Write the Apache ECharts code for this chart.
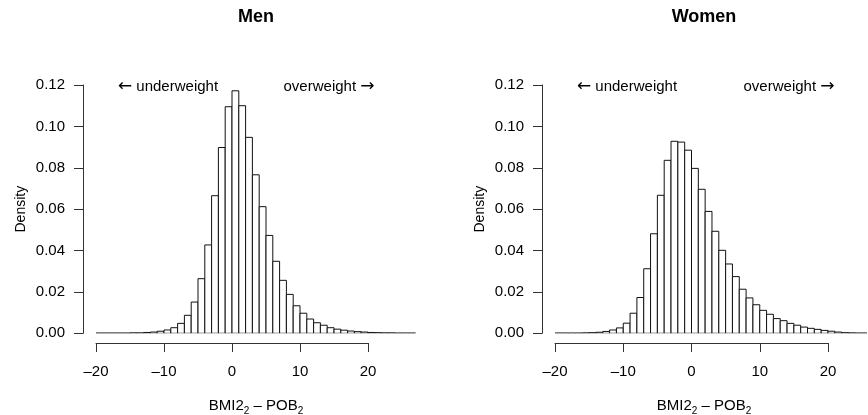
<!DOCTYPE html>
<html>
<head>
<meta charset="utf-8">
<script src="https://cdn.jsdelivr.net/npm/echarts@6/dist/echarts.min.js"></script>
<style>
  html, body { margin: 0; padding: 0; background: #fff; }
  #chart { width: 868px; height: 415px; }
</style>
</head>
<body>
<div id="chart"></div>
<script>
  // left edge of each bin (bin width 1)
  var binStart = [-20, -19, -18, -17, -16, -15, -14, -13, -12, -11, -10, -9, -8, -7, -6, -5, -4, -3, -2, -1,
    0, 1, 2, 3, 4, 5, 6, 7, 8, 9, 10, 11, 12, 13, 14, 15, 16, 17, 18, 19, 20, 21, 22, 23, 24, 25, 26];

  // density
  var menDensity = [0.0001, 0.0001, 0.0001, 0.0001, 0.0001, 0.0002, 0.0002, 0.0004, 0.0006, 0.0010,
    0.0016, 0.0027, 0.0048, 0.0087, 0.0151, 0.0264, 0.0427, 0.0665, 0.0898, 0.1095,
    0.1172, 0.1100, 0.0947, 0.0766, 0.0612, 0.0473, 0.0348, 0.0256, 0.0188, 0.0133,
    0.0097, 0.0069, 0.0051, 0.0039, 0.0027, 0.0020, 0.0015, 0.0011, 0.0008, 0.0006,
    0.0004, 0.0003, 0.0002, 0.0002, 0.0001, 0.0001, 0.0001];

  var womenDensity = [0.0001, 0.0001, 0.0001, 0.0001, 0.0002, 0.0003, 0.0005, 0.0009, 0.0016, 0.0026,
    0.0049, 0.0097, 0.0173, 0.0312, 0.0481, 0.0667, 0.0836, 0.0928, 0.0924, 0.0885,
    0.0797, 0.0696, 0.0589, 0.0493, 0.0401, 0.0335, 0.0274, 0.0213, 0.0171, 0.0138,
    0.0111, 0.0092, 0.0071, 0.0061, 0.0048, 0.0039, 0.0030, 0.0024, 0.0019, 0.0014,
    0.0010, 0.0006, 0.0003, 0.0002, 0.0001, 0.0001, 0.0001];

  var xTicks = [-20, -10, 0, 10, 20];
  var yTicks = [0, 0.02, 0.04, 0.06, 0.08, 0.10, 0.12];

  var font = 'Liberation Sans, Arial, Helvetica, sans-serif';

  function pairs(values) {
    return binStart.map(function (b, i) { return [b, values[i]]; });
  }

  // one rectangle per bin
  function renderBar(params, api) {
    var x0 = api.value(0);
    var top = api.coord([x0, api.value(1)]);
    var bottom = api.coord([x0 + 1, 0]);
    return {
      type: 'rect',
      shape: { x: top[0], y: top[1], width: bottom[0] - top[0], height: bottom[1] - top[1] },
      style: { fill: '#fff', stroke: '#111', lineWidth: 1 }
    };
  }

  function minusLabel(v) {
    return v < 0 ? '\u2013' + Math.abs(v) : String(v);
  }

  var axisLine = { show: true, onZero: false, lineStyle: { color: '#333', width: 1 } };
  var axisTick = { show: true, length: 9, lineStyle: { color: '#333', width: 1 } };

  function dataYAxis(gridIndex) {
    return {
      type: 'value', gridIndex: gridIndex, min: yTicks[0], max: yTicks[yTicks.length - 1], interval: 0.02,
      position: 'left', offset: 13,
      axisLine: axisLine, axisTick: axisTick, splitLine: { show: false },
      axisLabel: { color: '#000', fontSize: 15, fontFamily: font, margin: 18, formatter: function (v) { return v.toFixed(2); } },
      name: 'Density', nameLocation: 'middle', nameGap: 55,
      nameTextStyle: { color: '#000', fontSize: 14, fontFamily: font }
    };
  }

  function tickXAxis(gridIndex) {
    return {
      type: 'value', gridIndex: gridIndex, min: xTicks[0], max: xTicks[xTicks.length - 1], interval: 10,
      position: 'bottom', axisLine: axisLine, axisTick: axisTick, splitLine: { show: false },
      axisLabel: { color: '#000', fontSize: 15, fontFamily: font, margin: 21, formatter: minusLabel }
    };
  }

  function hiddenAxis(gridIndex, min, max) {
    return { type: 'value', gridIndex: gridIndex, min: min, max: max, show: false };
  }

  // x label with subscripts
  function xTitle(cx) {
    return {
      type: 'text', x: cx, y: 406,
      style: {
        text: '{m|BMI2}{s|2}{m| \u2013 POB}{s|2}',
        align: 'center', verticalAlign: 'middle', fontFamily: font,
        rich: {
          m: { fontSize: 15, fontFamily: font, lineHeight: 20, verticalAlign: 'middle', fill: '#000' },
          s: { fontSize: 10, fontFamily: font, lineHeight: 20, verticalAlign: 'bottom', fill: '#000' }
        }
      }
    };
  }

  // annotation with a long arrow
  function arrowText(txt, cx, cy) {
    return {
      type: 'text', x: cx, y: cy,
      style: {
        text: txt, align: 'center', verticalAlign: 'middle', fontFamily: font,
        rich: {
          t: { fontSize: 15, fontFamily: font, fill: '#000' },
          a: { fontSize: 17, fontFamily: 'DejaVu Sans', fill: '#000' }
        }
      }
    };
  }

  function label(txt, cx, cy, size) {
    return {
      type: 'text', x: cx, y: cy,
      style: { text: txt, align: 'center', verticalAlign: 'middle', fontFamily: font, fontSize: size, fontWeight: 'bold', fill: '#000' }
    };
  }

  var chartDom = document.getElementById('chart');
  var myChart = echarts.init(chartDom, null, { renderer: 'canvas' });

  var option = {
    animation: false,
    backgroundColor: '#fff',
    grid: [
      { left: 96, top: 85, width: 319.6, height: 248.3 },
      { left: 96, top: 333, width: 272, height: 10 },
      { left: 555, top: 85, width: 312, height: 248.3 },
      { left: 555, top: 333, width: 273, height: 10 }
    ],
    xAxis: [
      hiddenAxis(0, -20, 27),
      tickXAxis(1),
      hiddenAxis(2, -20, -20 + 312 / 6.825),
      tickXAxis(3)
    ],
    yAxis: [
      dataYAxis(0),
      hiddenAxis(1, 0, 1),
      dataYAxis(2),
      hiddenAxis(3, 0, 1)
    ],
    series: [
      { name: 'Men', type: 'custom', xAxisIndex: 0, yAxisIndex: 0, clip: true, renderItem: renderBar, data: pairs(menDensity) },
      { name: 'Women', type: 'custom', xAxisIndex: 2, yAxisIndex: 2, clip: true, renderItem: renderBar, data: pairs(womenDensity) }
    ],
    graphic: [
      label('Men', 256, 17, 18),
      label('Women', 704, 17, 18),
      arrowText('{a|\u2190}{t| underweight}', 168, 87),
      arrowText('{t|overweight }{a|\u2192}', 329, 87),
      arrowText('{a|\u2190}{t| underweight}', 627, 87),
      arrowText('{t|overweight }{a|\u2192}', 789, 87),
      xTitle(256),
      xTitle(704)
    ]
  };

  option && myChart.setOption(option);
</script>
</body>
</html>
